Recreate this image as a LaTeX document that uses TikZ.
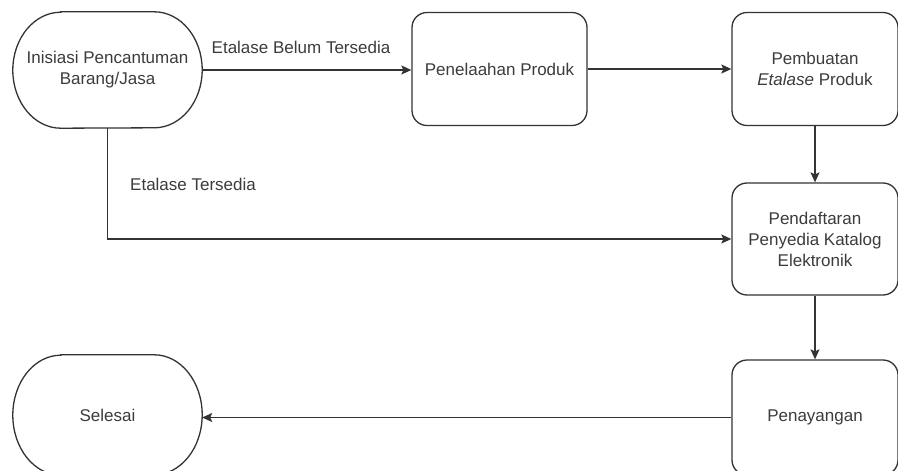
\documentclass[tikz,border=0pt]{standalone}
\usepackage{fontspec}
\setmainfont{Liberation Sans}
\usetikzlibrary{arrows.meta}
\definecolor{ink}{HTML}{333333}
\definecolor{txt}{HTML}{3C3C3C}
\begin{document}
\begin{tikzpicture}[x=1pt,y=-1pt,
  font=\fontsize{17}{21}\selectfont,
  box/.style={draw=ink, line width=1.3pt, rounded corners=15pt, text=txt, align=center, inner sep=0pt},
  term/.style={draw=none, text=txt, align=center, inner sep=0pt},
  tline/.style={draw=ink, line width=1.3pt},
  lbl/.style={text=txt, inner sep=0pt},
  arr/.style={draw=ink, line width=1.3pt, -{Stealth[length=10pt,width=9pt,inset=2pt]}}]
\useasboundingbox (0,0) rectangle (898,471);
\fill[white] (0,0) rectangle (898,471);

% terminators
\node[term, minimum width=189pt, minimum height=116pt] (start) at (107.5,70) {Inisiasi Pencantuman\\Barang/Jasa};
\draw[tline] ([xshift=48pt]start.north west) -- ([xshift=-48pt]start.north east)
  arc[start angle=90, end angle=-90, x radius=48pt, y radius=58pt]
  -- ([xshift=48pt]start.south west)
  arc[start angle=-90, end angle=-270, x radius=48pt, y radius=58pt] -- cycle;

\node[term, minimum width=189pt, minimum height=120pt] (sel) at (107.5,415) {Selesai};
\draw[tline] ([xshift=48pt]sel.north west) -- ([xshift=-48pt]sel.north east)
  arc[start angle=90, end angle=-90, x radius=48pt, y radius=60pt]
  -- ([xshift=48pt]sel.south west)
  arc[start angle=-90, end angle=-270, x radius=48pt, y radius=60pt] -- cycle;

% process boxes
\node[box, minimum width=175pt, minimum height=113pt] (pen) at (499.5,69) {Penelaahan Produk};
\node[box, minimum width=166pt, minimum height=113pt] (pemb) at (815,69) {Pembuatan\\\textit{Etalase} Produk};
\node[box, minimum width=166pt, minimum height=112pt] (daft) at (815,239) {Pendaftaran\\Penyedia Katalog\\Elektronik};
\node[box, minimum width=166pt, minimum height=115pt] (tay) at (815,417.5) {Penayangan};

% labels
\node[lbl] (l1) at (301,47) {Etalase Belum Tersedia};
\node[lbl, anchor=west] (l2) at (130,184) {Etalase Tersedia};

% connectors
\draw[arr] (start.east) -- (start.east -| pen.west);
\draw[arr] (pen.east) -- (pemb.west);
\draw[arr] (pemb.south) -- (daft.north);
\draw[arr] (start.south) |- (daft.west);
\draw[arr] (daft.south) -- (tay.north);
\draw[arr] (tay.west) -- (sel.east |- tay.west);
\end{tikzpicture}
\end{document}
